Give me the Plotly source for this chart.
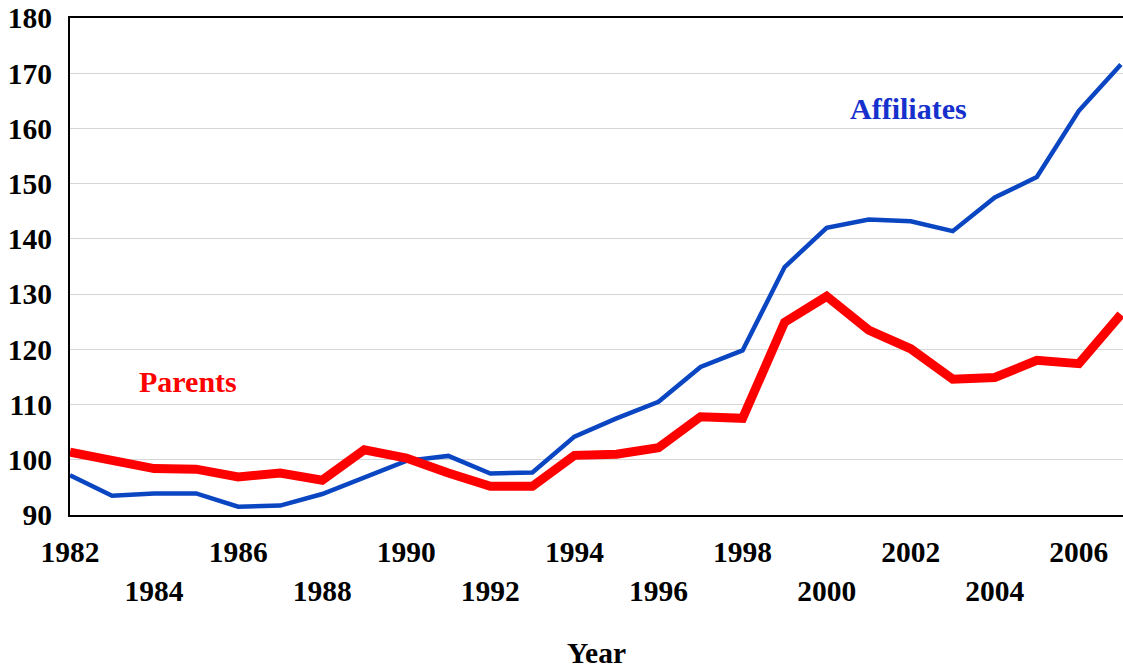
import plotly.graph_objects as go

years = list(range(1982, 2008))

affiliates = [97.2, 93.5, 93.9, 93.9, 91.5, 91.7, 93.8, 96.9, 99.8, 100.7,
              97.5, 97.7, 104.2, 107.5, 110.5, 116.8, 119.8, 134.9, 142.0, 143.5,
              143.2, 141.4, 147.5, 151.2, 163.2, 171.6]

parents = [101.4, 99.8, 98.4, 98.3, 96.9, 97.6, 96.3, 101.8, 100.3, 97.6,
           95.2, 95.2, 100.8, 101.0, 102.2, 107.8, 107.5, 124.9, 129.6, 123.5,
           120.1, 114.6, 114.9, 118.0, 117.4, 126.3]

upper_ticks = [1982, 1986, 1990, 1994, 1998, 2002, 2006]
lower_ticks = [1984, 1988, 1992, 1996, 2000, 2004]
y_ticks = [90, 100, 110, 120, 130, 140, 150, 160, 170, 180]

serif = "Liberation Serif"
blue = "#0a46c2"
red = "#ff0000"

fig = go.Figure()

fig.add_trace(go.Scatter(
    x=years, y=affiliates, mode="lines", name="Affiliates",
    line=dict(color=blue, width=4.5), xaxis="x", yaxis="y",
))
fig.add_trace(go.Scatter(
    x=years, y=parents, mode="lines", name="Parents",
    line=dict(color=red, width=9), xaxis="x2", yaxis="y",
))

fig.add_annotation(x=2001.95, y=163.6, xref="x", yref="y", text="<b>Affiliates</b>",
                   showarrow=False, font=dict(family=serif, size=30, color="#1530cc"))
fig.add_annotation(x=1984.8, y=114.1, xref="x", yref="y", text="<b>Parents</b>",
                   showarrow=False, font=dict(family=serif, size=30, color=red))

tick_font = dict(family=serif, size=29.5, color="black", weight="bold")

fig.update_layout(
    width=1123,
    height=669,
    margin=dict(l=70, r=0, t=18, b=154),
    plot_bgcolor="white",
    paper_bgcolor="white",
    showlegend=False,
    xaxis=dict(
        range=[1982, 2007.05],
        tickvals=upper_ticks,
        ticktext=[str(v) for v in upper_ticks],
        tickfont=tick_font,
        ticks="",
        ticklabelstandoff=10,
        showgrid=False,
        zeroline=False,
        showline=True,
        mirror=True,
        linecolor="black",
        linewidth=2,
    ),
    xaxis2=dict(
        range=[1982, 2007.05],
        overlaying="x",
        anchor="y",
        side="bottom",
        tickvals=lower_ticks,
        ticktext=[str(v) for v in lower_ticks],
        tickfont=tick_font,
        ticks="",
        ticklabelstandoff=55,
        showgrid=False,
        zeroline=False,
        showline=False,
        title=dict(text="<b>Year</b>", font=dict(family=serif, size=29.5, color="black"), standoff=38),
    ),
    yaxis=dict(
        range=[90, 180],
        tickvals=y_ticks,
        tickfont=tick_font,
        ticks="",
        ticklabelstandoff=10,
        showgrid=True,
        gridcolor="#d6d6d6",
        gridwidth=1,
        zeroline=False,
        showline=True,
        mirror=False,
        linecolor="black",
        linewidth=2,
    ),
)

fig.write_html("out.html", config={"displayModeBar": False},
               post_script="document.body.style.margin='0';")
